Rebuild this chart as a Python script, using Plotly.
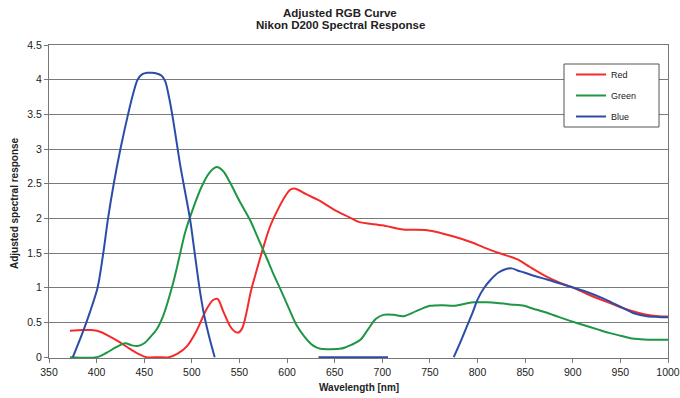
import plotly.graph_objects as go

# ---- data ----
red_nm = [372, 385, 395, 405, 415, 425, 435, 445, 452, 465, 476, 485, 495, 505, 515, 522, 527,
          533, 540, 545, 549, 553, 557, 562, 568, 575, 582, 590, 598, 603, 607, 612, 620, 635,
          650, 665, 675, 700, 722, 747, 775, 795, 807, 825, 842, 855, 870, 885, 901, 915, 933,
          948, 961, 975, 990, 1000]
red_val = [0.38, 0.39, 0.39, 0.36, 0.29, 0.21, 0.12, 0.04, 0.0, 0.0, 0.0, 0.05, 0.16, 0.38, 0.68,
           0.82, 0.84, 0.66, 0.45, 0.37, 0.355, 0.42, 0.62, 0.95, 1.25, 1.58, 1.88, 2.12, 2.32,
           2.41, 2.43, 2.41, 2.35, 2.25, 2.12, 2.02, 1.95, 1.9, 1.84, 1.83, 1.74, 1.65, 1.58, 1.49,
           1.41, 1.30, 1.18, 1.08, 1.0, 0.91, 0.81, 0.73, 0.67, 0.62, 0.59, 0.585]

green_nm = [372, 400, 410, 420, 430, 437, 443, 450, 457, 463, 470, 480, 487, 493, 502, 510, 518,
            526, 533, 540, 550, 561, 569, 577, 585, 593, 602, 610, 618, 627, 635, 645, 655, 661,
            668, 677, 685, 693, 701, 712, 722, 735, 750, 763, 775, 787, 796, 810, 821, 835, 849,
            860, 873, 885, 898, 912, 926, 938, 950, 962, 971, 985, 1000]
green_val = [0.0, 0.0, 0.06, 0.14, 0.2, 0.17, 0.16, 0.2, 0.3, 0.4, 0.6, 1.05, 1.45, 1.8, 2.17, 2.45,
             2.65, 2.74, 2.68, 2.52, 2.25, 1.98, 1.73, 1.48, 1.22, 0.98, 0.7, 0.46, 0.3, 0.17, 0.12,
             0.115, 0.12, 0.14, 0.18, 0.25, 0.4, 0.55, 0.61, 0.61, 0.59, 0.66, 0.74, 0.75, 0.74,
             0.77, 0.79, 0.79, 0.78, 0.76, 0.74, 0.69, 0.64, 0.58, 0.52, 0.46, 0.40, 0.35, 0.31,
             0.27, 0.26, 0.25, 0.25]

blue_nm = [375, 386, 393, 401, 407, 412, 418, 425, 433, 438, 443, 448, 453, 458, 463, 468, 472,
           476, 480, 484, 488, 492, 498, 503, 508, 513, 519, 524,
           None,
           633, 706,
           None,
           775, 783, 789, 795, 800, 807, 814, 822, 830, 836, 842, 849, 860, 873, 887, 901, 915,
           933, 945, 954, 965, 978, 990, 1000]
blue_val = [0.0, 0.38, 0.65, 1.0, 1.5, 2.0, 2.5, 3.0, 3.5, 3.78, 4.0, 4.08, 4.1, 4.1, 4.09, 4.06,
            3.98, 3.75, 3.45, 3.1, 2.75, 2.45, 2.0, 1.5, 1.0, 0.6, 0.25, 0.0,
            None,
            0.0, 0.0,
            None,
            0.0, 0.25, 0.45, 0.65, 0.83, 1.0, 1.12, 1.22, 1.27, 1.28, 1.25, 1.22, 1.17, 1.12,
            1.06, 1.0, 0.94, 0.84, 0.76, 0.70, 0.63, 0.59, 0.58, 0.575]

series_names = ["Red", "Green", "Blue"]
series_colors = ["#f52a2a", "#1e9645", "#2c4ca8"]
x_ticks = list(range(350, 1001, 50))
y_ticks = [0, 0.5, 1, 1.5, 2, 2.5, 3, 3.5, 4, 4.5]
title_lines = ["Adjusted RGB Curve", "Nikon D200 Spectral Response"]

FONT = "Liberation Sans, Arial, sans-serif"

fig = go.Figure()
for i, (name, xs, ys) in enumerate(zip(series_names,
                                      [red_nm, green_nm, blue_nm],
                                      [red_val, green_val, blue_val])):
    fig.add_trace(go.Scatter(
        x=xs, y=ys, name=name, mode="lines", legendgroup=name,
        line=dict(color=series_colors[i], width=2, shape="spline", smoothing=0.8),
        connectgaps=False, hoverinfo="skip",
    ))

# the page body margin is removed below, so figure pixels == screen pixels
W, H = 680, 398
L, R, T, B = 49, 668, 45, 358
pw, ph = R - L, B - T

def px(xs):
    return (xs - L) / pw

def py(ys):
    return (B - ys) / ph

annotations = [
    dict(text="<b>Adjusted spectral response</b>", xref="paper", yref="paper",
         x=px(14), y=py(203), textangle=-90, showarrow=False,
         xanchor="center", yanchor="middle", font=dict(size=10, color="#222")),
    dict(text="<b>Wavelength [nm]</b>", xref="paper", yref="paper",
         x=0.5, y=py(387), showarrow=False, xanchor="center", yanchor="middle",
         font=dict(size=10, color="#222")),
]
for txt, yc in zip(title_lines, [12.7, 25.2]):
    annotations.append(dict(text="<b>%s</b>" % txt, xref="paper", yref="paper",
                            x=px(340), y=py(yc), showarrow=False, xanchor="center",
                            yanchor="middle", font=dict(size=11.5, color="#222")))

fig.update_layout(
    width=W, height=H,
    margin=dict(l=L, r=W - R, t=T, b=H - B, autoexpand=False),
    paper_bgcolor="white", plot_bgcolor="white",
    font=dict(family=FONT, size=10, color="#222"),
    xaxis=dict(range=[350, 1000], tickvals=x_ticks, ticks="outside", ticklen=4,
               tickcolor="#777", showgrid=False, showline=True, linecolor="#777",
               linewidth=1, mirror=True, zeroline=False, automargin=False,
               tickfont=dict(size=10.5, color="#222")),
    yaxis=dict(range=[-0.012, 4.5], tickvals=y_ticks, ticks="outside", ticklen=4,
               tickcolor="#777", showgrid=True, gridcolor="#7a7a7a", gridwidth=1,
               showline=True, linecolor="#777", linewidth=1, mirror=True,
               zeroline=False, automargin=False, tickfont=dict(size=10.5, color="#222")),
    showlegend=True,
    legend=dict(x=px(571), y=py(60), xanchor="left", yanchor="top",
                bgcolor="rgba(0,0,0,0)", borderwidth=0,
                traceorder="grouped", tracegroupgap=2,
                font=dict(size=9, color="#222", family=FONT)),
    shapes=[dict(type="rect", xref="paper", yref="paper",
                 x0=px(564), x1=px(659), y0=py(127), y1=py(64),
                 line=dict(color="#555", width=1), fillcolor="white", layer="above")],
    annotations=annotations,
)

fig.write_html("out.html",
               config={"displayModeBar": False},
               post_script="document.body.style.margin='0';"
                           "document.documentElement.style.overflow='hidden';")
